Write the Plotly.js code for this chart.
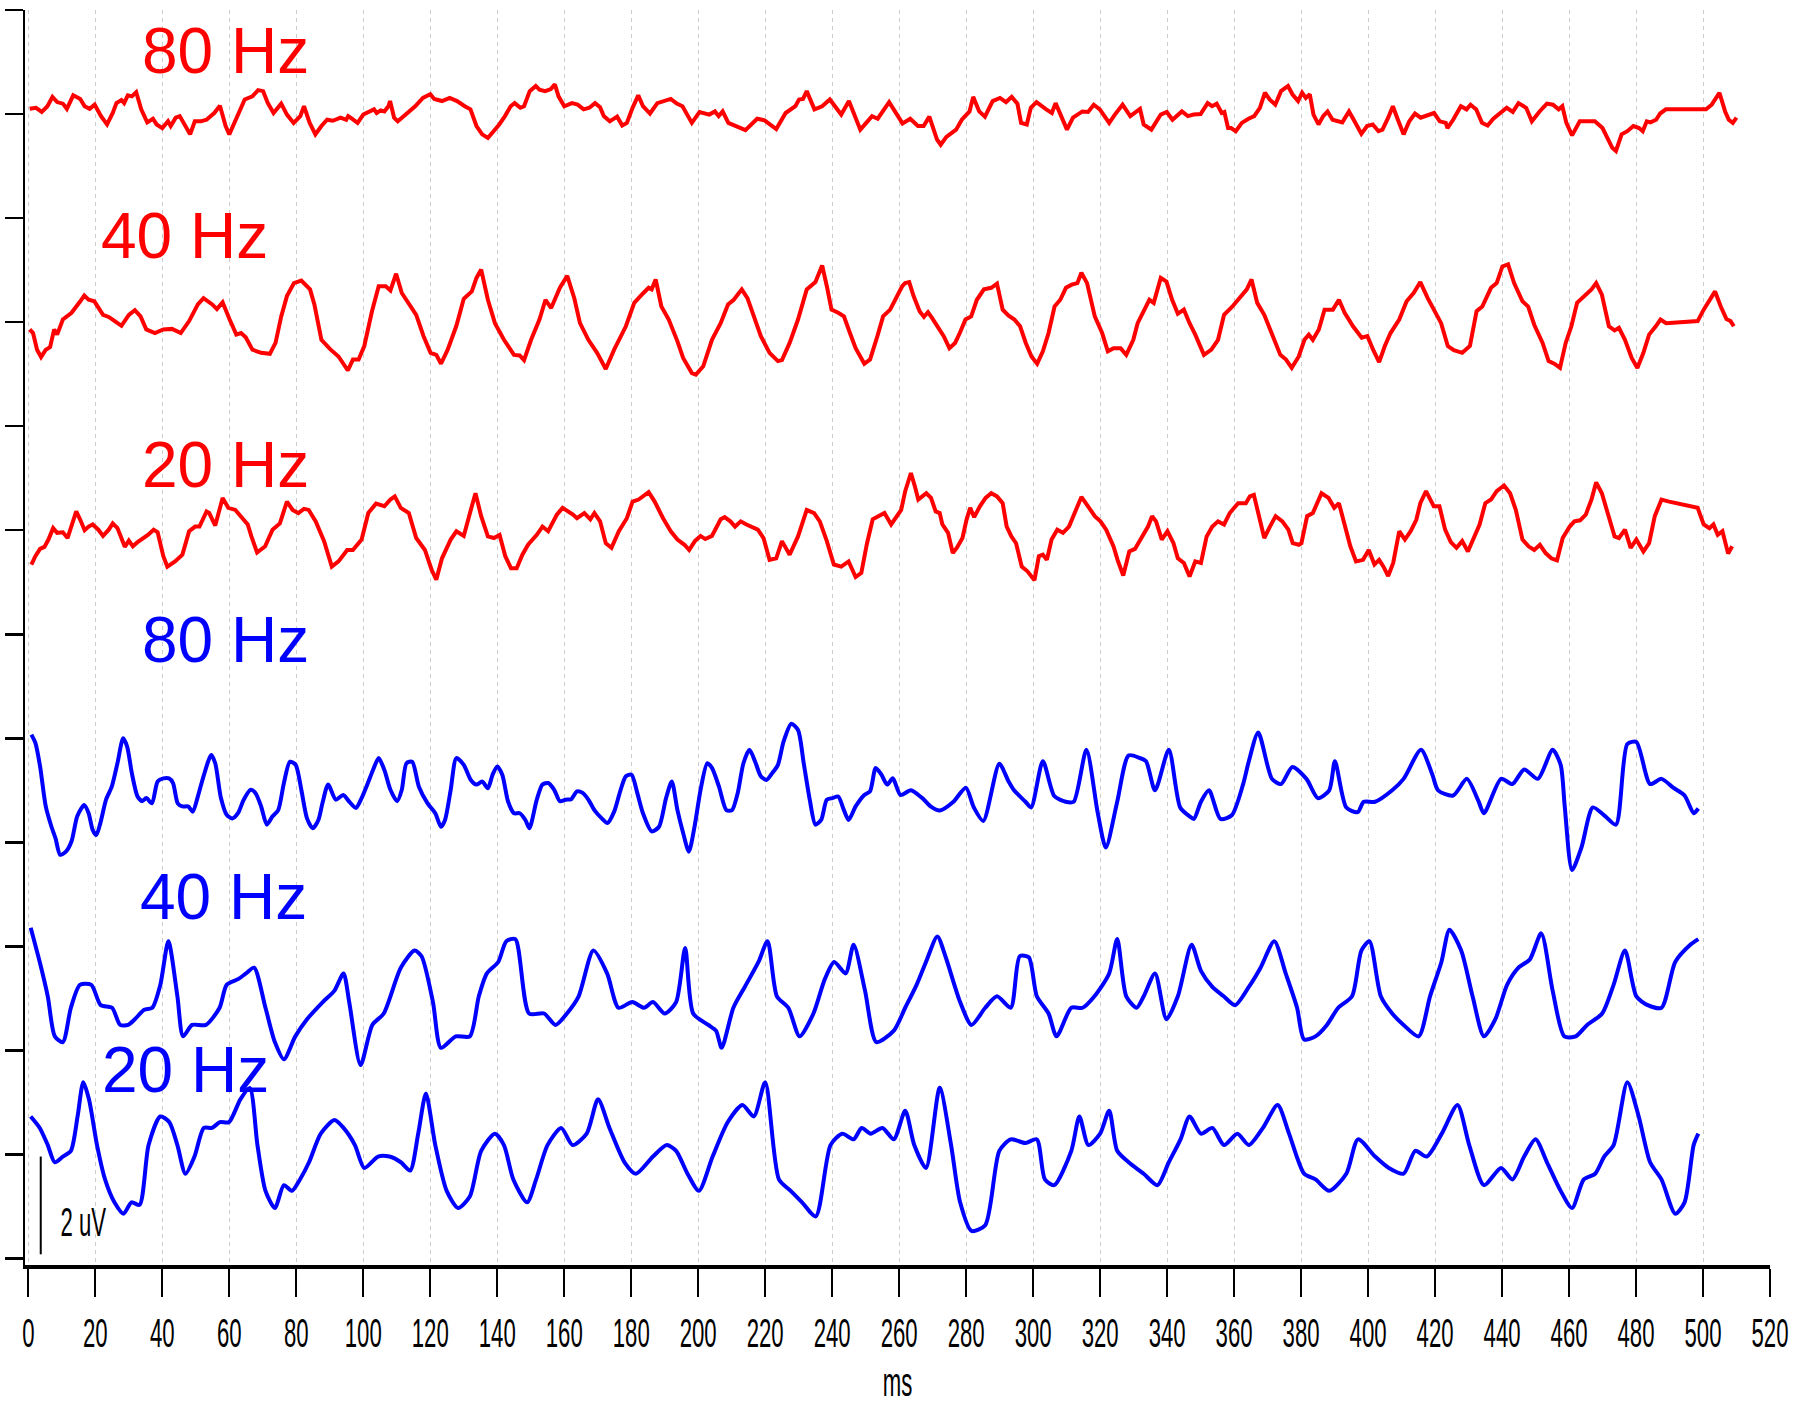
<!DOCTYPE html>
<html>
<head>
<meta charset="utf-8">
<script src="https://cdn.plot.ly/plotly-3.0.1.min.js"></script>
<style>
  html, body { margin: 0; padding: 0; background: #ffffff; }
  #chart { width: 1796px; height: 1404px; }
</style>
</head>
<body>
<div id="chart"></div>
<script>
// ---------------- DATA (time in ms, amplitude in uV relative to each trace's baseline) ----------------
const traceLabels = ['80 Hz', '40 Hz', '20 Hz', '80 Hz', '40 Hz', '20 Hz'];
const traceBaselines = [22, 18, 14, 10, 6, 2];   // uV offset used to stack the traces
const traceColors = ['#ff0000', '#ff0000', '#ff0000', '#0000ff', '#0000ff', '#0000ff'];
const xTicks = [0,20,40,60,80,100,120,140,160,180,200,220,240,260,280,300,320,340,360,380,400,420,440,460,480,500,520];
const yTicks = [0,2,4,6,8,10,12,14,16,18,20,22,24];
const scaleBar = { ms: 3.7, from: 0.08, to: 1.96, label: '2 uV' };
const xTitle = 'ms';

const red80 = [[0.4,0.10],[2.3,0.12],[4.0,0.04],[5.7,0.15],[7.2,0.33],[8.6,0.23],[10.3,0.20],[11.5,0.10],[13.4,0.36],[15.5,0.29],[16.8,0.15],[18.3,0.10],[19.8,0.18],[21.7,-0.04],[23.5,-0.20],[25.2,0.02],[26.3,0.21],[27.8,0.27],[28.6,0.21],[29.7,0.36],[30.9,0.34],[32.2,0.42],[33.7,0.09],[35.5,-0.16],[37.2,-0.09],[38.3,-0.20],[40.0,-0.27],[41.7,-0.14],[42.5,-0.23],[44.0,-0.07],[45.2,-0.04],[46.9,-0.23],[48.3,-0.39],[49.7,-0.14],[51.5,-0.14],[53.2,-0.11],[55.5,0.02],[57.2,0.16],[58.9,-0.23],[60.0,-0.39],[62.3,-0.04],[64.6,0.28],[66.9,0.34],[68.6,0.46],[70.1,0.44],[71.5,0.21],[73.2,0.02],[75.5,0.20],[77.2,-0.01],[79.2,-0.17],[81.2,-0.04],[82.3,0.15],[84.0,-0.17],[85.7,-0.39],[87.5,-0.23],[89.2,-0.11],[90.9,-0.13],[93.2,-0.07],[94.9,-0.11],[95.5,-0.04],[96.6,-0.09],[98.3,-0.17],[100.0,-0.01],[101.8,0.04],[103.2,0.09],[104.0,0.02],[105.2,0.07],[106.3,0.05],[107.5,0.15],[108.0,0.25],[109.2,-0.07],[110.3,-0.14],[112.6,-0.01],[115.5,0.15],[117.8,0.31],[120.0,0.38],[121.2,0.29],[123.5,0.25],[125.8,0.31],[128.0,0.25],[130.3,0.15],[132.0,0.09],[133.8,-0.23],[135.5,-0.39],[137.2,-0.46],[138.9,-0.33],[140.6,-0.20],[142.3,-0.04],[144.0,0.15],[145.2,0.21],[146.9,0.12],[148.0,0.15],[149.7,0.44],[151.5,0.54],[152.6,0.47],[154.3,0.44],[156.0,0.48],[157.2,0.57],[158.3,0.34],[160.0,0.15],[162.3,0.21],[164.0,0.18],[165.8,0.09],[167.5,0.12],[169.2,0.21],[170.7,0.13],
[171.8,-0.04],[173.6,-0.14],[175.8,-0.05],[177.3,-0.22],[178.7,-0.17],[180.4,0.12],[182.1,0.36],[183.5,0.15],[185.6,0.01],[187.8,0.21],[190.7,0.27],[191.8,0.29],[193.6,0.20],[195.3,0.15],[198.1,-0.17],[200.4,0.04],[203.3,-0.01],[205.0,0.05],[206.1,-0.04],[207.3,0.05],[209.0,-0.17],[211.8,-0.25],[214.1,-0.31],[217.6,-0.09],[219.8,-0.12],[223.3,-0.29],[226.1,0.02],[229.0,0.15],[230.1,0.28],[231.3,0.29],[232.4,0.44],[234.7,0.09],[237.0,0.15],[239.3,0.28],[242.7,-0.01],[245.0,0.25],[248.4,-0.30],[251.9,-0.04],[253.6,-0.09],[257.0,0.23],[261.0,-0.18],[263.3,-0.09],[265.6,-0.23],[267.3,-0.23],[269.0,-0.05],[271.3,-0.49],[272.4,-0.59],[274.1,-0.44],[277.0,-0.30],[278.7,-0.11],[281.0,0.05],[282.1,0.33],[283.9,0.05],[285.6,-0.05],[287.9,0.25],[290.1,0.31],[291.9,0.23],[293.6,0.33],[295.3,0.20],[296.4,-0.17],[298.1,-0.20],[299.3,0.12],[301.0,0.23],[303.9,0.09],[305.6,0.02],[306.7,0.21],[310.1,-0.30],[311.9,-0.07],[314.7,0.05],[316.4,0.04],[318.1,0.18],[319.9,0.09],[322.7,-0.17],[324.4,-0.01],[326.7,0.18],[329.0,-0.04],[330.1,0.02],[331.9,0.10],[333.0,-0.20],[335.3,-0.30],[338.1,-0.01],[339.9,0.04],[341.6,-0.11],[344.4,0.05],[346.2,-0.04],[347.9,-0.01],
[350.0,0.00],[352.1,0.21],[353.4,0.15],[354.8,0.20],[356.3,0.02],[357.1,0.04],[358.2,-0.27],[359.1,-0.27],[360.5,-0.33],[362.3,-0.17],[364.3,-0.09],[366.0,-0.04],[367.7,0.12],[369.2,0.41],[370.6,0.28],[372.3,0.18],[374.0,0.44],[376.1,0.54],[377.4,0.38],[379.1,0.25],[380.3,0.41],[381.4,0.31],[382.6,0.38],[383.7,-0.01],[385.2,-0.20],[386.6,-0.04],[387.9,0.05],[389.4,-0.11],[392.3,-0.16],[394.3,0.05],[395.7,-0.11],[398.0,-0.38],[399.7,-0.23],[401.4,-0.20],[403.1,-0.33],[404.3,-0.30],[406.0,-0.07],[407.4,0.15],[408.9,-0.11],[410.6,-0.39],[412.3,-0.14],[414.0,0.01],[415.7,-0.07],[418.6,-0.01],[419.7,0.02],[421.4,-0.14],[423.2,-0.17],[423.7,-0.27],[425.4,-0.11],[427.7,0.15],[429.4,0.09],[430.6,0.18],[432.3,0.09],[434.0,-0.17],[435.7,-0.22],[437.4,-0.09],[440.3,0.05],[441.4,0.12],[443.2,0.04],[444.9,0.21],[447.2,0.12],[448.9,-0.14],[451.2,0.05],[453.4,0.20],[455.2,0.18],[456.9,0.09],[458.0,0.15],[459.2,-0.17],[460.9,-0.41],[463.2,-0.14],[467.7,-0.14],[470.0,-0.27],[472.9,-0.65],[474.0,-0.71],[475.7,-0.39],[477.4,-0.33],[479.2,-0.23],[480.9,-0.27],[482.0,-0.33],[483.2,-0.14],[484.3,-0.16],[486.0,-0.11],[487.2,0.01],[488.9,0.09],[500.9,0.09],[502.6,0.18],[504.9,0.41],[506.6,0.05],[507.7,-0.11],[508.9,-0.17],[510.0,-0.07]];

const red40 = [[0.4,-0.14],[1.4,-0.21],[2.6,-0.53],[3.8,-0.67],[5.2,-0.53],[6.5,-0.48],[7.7,-0.14],[8.6,-0.24],[10.3,0.05],[12.9,0.18],[15.5,0.40],[16.7,0.51],[18.0,0.43],[19.7,0.40],[22.3,0.14],[24.0,0.10],[25.8,0.02],[27.8,-0.07],[30.0,0.14],[31.8,0.23],[33.5,0.11],[35.2,-0.14],[37.8,-0.21],[40.3,-0.14],[42.9,-0.13],[45.5,-0.21],[48.0,0.02],[50.6,0.34],[52.3,0.46],[54.9,0.34],[56.3,0.25],[58.0,0.38],[60.1,0.05],[62.1,-0.24],[63.5,-0.21],[64.9,-0.29],[66.9,-0.53],[69.5,-0.59],[72.1,-0.61],[73.8,-0.40],[75.5,0.11],[77.2,0.50],[79.3,0.75],[81.5,0.80],[84.1,0.63],[85.4,0.34],[87.5,-0.34],[90.1,-0.52],[92.6,-0.66],[94.0,-0.79],[95.4,-0.93],[96.9,-0.72],[98.6,-0.72],[100.3,-0.46],[102.6,0.21],[104.6,0.69],[106.7,0.69],[108.1,0.61],[109.8,0.93],[111.5,0.56],[114.1,0.30],[115.8,0.14],[118.0,-0.27],[120.1,-0.59],[121.8,-0.63],[123.2,-0.80],[125.2,-0.53],[127.8,-0.07],[130.0,0.45],[132.4,0.59],[133.8,0.85],[135.2,1.01],[137.2,0.43],[139.3,-0.02],[142.0,-0.34],[145.0,-0.63],[146.7,-0.64],[148.0,-0.73],[150.1,-0.34],[152.6,0.05],[154.4,0.43],[156.1,0.27],[158.7,0.66],[160.9,0.89],[163.0,0.46],[164.7,-0.02],[167.2,-0.34],[169.8,-0.59],[172.4,-0.90],[174.9,-0.53],[178.4,-0.08],[180.9,0.37],[183.5,0.55],[185.2,0.66],[186.1,0.63],[187.3,0.82],[189.0,0.30],[191.2,0.05],[193.8,-0.37],[195.5,-0.69],[198.1,-0.98],[199.3,-1.01],[201.5,-0.85],[204.1,-0.34],[206.7,-0.02],[208.9,0.34],[210.6,0.43],[213.0,0.63],[214.7,0.46],[217.0,0.02],[218.7,-0.27],[221.3,-0.59],[223.8,-0.75],[225.0,-0.73],[227.3,-0.40],[229.8,0.05],[232.4,0.63],[235.0,0.77],[237.0,1.09],[238.4,0.69],[239.8,0.24],[241.8,0.18],[243.5,0.11],[245.3,-0.21],[247.0,-0.50],[249.6,-0.80],[251.3,-0.72],[253.5,-0.27],[255.2,0.11],[257.3,0.24],[259.0,0.46],
[260.9,0.69],[261.8,0.75],[263.0,0.77],[264.3,0.50],[266.1,0.21],[267.4,0.10],[268.6,0.19],[269.8,0.08],[271.5,-0.08],[273.3,-0.27],[275.0,-0.50],[276.7,-0.40],[278.1,-0.21],[279.8,0.05],[281.5,0.11],[283.2,0.43],[285.3,0.63],[287.5,0.66],[289.2,0.74],[290.9,0.24],[292.6,0.13],[294.4,0.05],[296.1,-0.08],[297.8,-0.40],[299.5,-0.66],[301.2,-0.80],[302.9,-0.56],[304.6,-0.21],[306.4,0.30],[308.1,0.43],[309.8,0.66],[311.5,0.72],[313.2,0.75],[314.4,0.95],[316.1,0.75],[318.4,0.11],[320.6,-0.21],[322.3,-0.56],[324.0,-0.50],[326.1,-0.50],[327.8,-0.63],[329.9,-0.34],[331.2,-0.02],[332.9,0.18],[334.7,0.43],[336.0,0.37],[338.1,0.85],[339.8,0.78],[341.5,0.43],[343.2,0.16],[345.0,0.24],[346.7,-0.02],[348.4,-0.24],[351.0,-0.63],[353.2,-0.53],[355.2,-0.34],[357.0,0.14],[359.5,0.30],[362.1,0.50],[363.8,0.63],[365.2,0.82],[366.9,0.37],[369.0,0.14],[371.5,-0.24],[373.8,-0.63],[375.5,-0.72],[377.2,-0.88],[379.3,-0.66],[381.0,-0.34],[382.3,-0.24],[383.5,-0.34],[385.3,-0.14],[387.0,0.24],[389.5,0.24],[391.3,0.43],[393.0,0.18],[395.5,-0.08],[398.1,-0.30],[399.8,-0.27],[401.5,-0.53],[403.3,-0.77],[405.0,-0.46],[406.7,-0.21],[409.3,0.05],[411.5,0.40],[413.6,0.56],[415.6,0.77],[417.8,0.46],[419.6,0.24],[421.8,-0.02],[423.8,-0.46],[425.6,-0.54],[428.1,-0.59],[430.4,-0.46],[432.4,0.21],[434.1,0.30],[436.7,0.66],[438.4,0.75],[440.1,1.07],[441.8,1.11],[443.6,0.75],[446.1,0.40],[447.8,0.30],[449.6,-0.05],[452.1,-0.40],[453.9,-0.75],[455.6,-0.80],[457.3,-0.88],[459.0,-0.40],[460.7,-0.08],[462.4,0.37],[464.7,0.50],[466.7,0.63],[468.1,0.75],[469.8,0.53],[471.9,-0.08],[473.6,-0.16],[474.9,-0.11],[476.7,-0.34],[478.7,-0.69],[480.4,-0.88],[482.2,-0.59],[483.9,-0.24],[485.9,-0.08],[487.3,0.05],[489.0,-0.02],[498.4,0.02],[500.2,0.24],[501.9,0.43],[503.6,0.59],[505.3,0.30],[507.0,0.06],[508.2,0.02],[509.2,-0.08]];

const red20 = [[0.9,-0.66],[2.1,-0.50],[3.5,-0.36],[4.8,-0.32],[6.0,-0.18],[7.4,0.04],[8.6,-0.05],[10.3,-0.04],[11.7,-0.15],[12.9,0.07],[14.3,0.36],[15.5,0.20],[16.8,0.00],[18.0,0.07],[19.2,0.11],[20.9,0.01],[22.3,-0.11],[24.0,0.01],[25.2,0.13],[26.6,0.04],[27.8,-0.18],[28.8,-0.32],[30.0,-0.20],[31.2,-0.31],[32.6,-0.23],[34.0,-0.17],[35.7,-0.09],[37.4,0.01],[38.6,-0.04],[40.3,-0.50],[41.5,-0.70],[43.8,-0.60],[46.0,-0.47],[48.0,-0.02],[49.8,0.07],[51.1,0.07],[53.2,0.36],[54.0,0.33],[55.8,0.09],[58.0,0.62],[59.7,0.43],[61.8,0.39],[63.5,0.27],[65.5,0.11],[66.6,-0.12],[68.3,-0.43],[70.7,-0.31],[72.9,0.01],[75.1,0.13],[77.2,0.55],[78.9,0.39],[80.6,0.33],[82.3,0.41],[83.7,0.39],[85.8,0.17],[88.3,-0.21],[90.6,-0.70],[92.6,-0.60],[95.2,-0.38],[96.9,-0.38],[99.5,-0.18],[101.5,0.33],[103.8,0.51],[106.3,0.46],[108.1,0.59],[109.4,0.65],[111.2,0.43],[113.6,0.33],[115.8,-0.15],[118.4,-0.38],[120.4,-0.76],[121.8,-0.95],[123.5,-0.54],[126.1,-0.18],[127.8,-0.02],[130.0,-0.11],[132.1,0.39],[133.5,0.71],[135.2,0.27],[137.2,-0.12],[139.0,-0.15],[140.7,-0.09],[142.4,-0.50],[144.1,-0.73],[145.8,-0.73],[147.5,-0.47],[149.2,-0.28],[151.8,-0.09],[153.5,0.07],[155.2,-0.02],[157.8,0.30],[159.5,0.43],[162.6,0.30],[163.8,0.23],[166.0,0.33],[167.8,0.21],[169.0,0.33],[170.7,0.17],[172.4,-0.25],[174.1,-0.34],[176.3,-0.02],[178.7,0.23],[180.4,0.55],[182.2,0.59],[185.2,0.73],[187.0,0.55],[189.5,0.23],[191.8,-0.02],[193.8,-0.18],[195.9,-0.28],[197.3,-0.38],[199.0,-0.21],[200.7,-0.11],[202.1,-0.17],[204.1,-0.11],[206.7,0.21],[207.9,0.25],[209.6,0.17],[211.0,0.07],[212.7,0.17],[214.4,0.11],[217.8,0.01],[219.5,-0.15],[221.3,-0.57],[223.3,-0.54],[225.0,-0.21],[227.3,-0.47],[229.8,-0.12],[232.4,0.39],[234.6,0.33],[236.3,0.17],[238.4,-0.21],[240.5,-0.66],[242.7,-0.70],[244.9,-0.60],[247.0,-0.90],[248.7,-0.82],[250.4,-0.25],[252.1,0.21],[254.2,0.27],[255.6,0.33],[257.6,0.11],[259.0,0.23],
[260.6,0.39],[261.8,0.75],[263.5,1.10],[264.7,0.84],[265.7,0.59],[266.9,0.65],[268.1,0.71],[269.5,0.62],[270.9,0.36],[272.1,0.33],[272.9,0.11],[274.6,-0.05],[276.0,-0.44],[277.2,-0.34],[278.9,-0.15],[280.1,0.20],[281.2,0.43],[282.4,0.25],[284.1,0.46],[285.8,0.62],[287.5,0.71],[289.2,0.65],[290.9,0.52],[292.1,0.07],[293.5,-0.12],[294.9,-0.25],[296.6,-0.70],[298.3,-0.79],[300.4,-0.96],[301.7,-0.50],[302.9,-0.47],[304.1,-0.57],[305.5,-0.18],[307.2,0.01],[308.9,-0.05],[310.7,0.07],[312.4,0.33],[314.4,0.64],[316.7,0.43],[318.4,0.27],[320.1,0.17],[321.8,0.01],[324.0,-0.31],[325.2,-0.57],[326.9,-0.87],[328.7,-0.41],[330.4,-0.36],[332.1,-0.18],[334.3,0.07],[335.5,0.27],[336.7,0.17],[338.4,-0.18],[340.1,-0.02],[341.9,-0.25],[343.2,-0.54],[345.0,-0.63],[346.7,-0.89],[348.4,-0.60],[350.1,-0.63],[351.8,-0.12],[353.5,0.07],[355.2,0.17],[357.0,0.11],[358.7,0.33],[361.2,0.52],[363.5,0.52],[364.7,0.65],[365.9,0.68],[367.6,0.23],[369.0,-0.15],[370.7,0.07],[372.4,0.27],[374.4,0.17],[376.2,0.01],[377.5,-0.25],[379.3,-0.28],[380.1,-0.25],[381.8,0.27],[383.5,0.33],[386.1,0.71],[388.2,0.62],[389.9,0.43],[391.3,0.52],[393.0,0.07],[394.7,-0.31],[396.4,-0.60],[398.5,-0.57],[400.2,-0.38],[401.9,-0.66],[403.3,-0.57],[404.6,-0.70],[406.0,-0.88],[407.5,-0.63],[409.3,-0.02],[411.0,-0.18],[412.7,-0.02],[414.4,0.20],[415.6,0.52],[417.3,0.75],[419.6,0.46],[421.3,0.46],[423.0,0.01],[424.7,-0.23],[426.4,-0.34],[428.1,-0.21],[429.8,-0.41],[431.6,-0.15],[433.3,0.11],[435.0,0.52],[436.7,0.59],[438.4,0.75],[440.6,0.86],[442.4,0.71],[444.1,0.39],[446.1,-0.18],[447.9,-0.31],[449.6,-0.38],[451.3,-0.28],[453.0,-0.44],[454.7,-0.54],[456.4,-0.58],[458.1,-0.15],[460.2,0.07],[461.6,0.17],[463.3,0.19],[465.0,0.30],[466.7,0.59],[468.1,0.92],[469.8,0.71],[471.9,0.27],[473.6,-0.12],[474.9,-0.15],[476.7,0.01],[478.4,-0.34],[480.1,-0.18],[482.2,-0.41],[483.9,-0.25],[485.6,0.27],[487.6,0.59],[489.9,0.55],[498.4,0.43],[500.2,0.11],[501.9,0.04],[503.1,0.11],[504.4,-0.09],[505.8,-0.02],[507.5,-0.45],[508.7,-0.31]];

const blue80 = [[0.9,0.07],[2.1,-0.09],[3.5,-0.54],[5.2,-1.31],[6.9,-1.70],[8.1,-1.92],[9.5,-2.24],[11.2,-2.18],[12.9,-1.98],[14.6,-1.50],[16.7,-1.28],[18.0,-1.44],[19.2,-1.76],[20.3,-1.86],[21.5,-1.63],[23.2,-1.18],[24.9,-0.93],[26.6,-0.48],[28.3,0.00],[29.5,-0.16],[30.9,-0.67],[32.6,-1.12],[34.0,-1.21],[35.2,-1.15],[36.9,-1.25],[38.6,-0.83],[40.3,-0.77],[42.0,-0.77],[43.2,-0.86],[44.6,-1.25],[46.0,-1.31],[47.7,-1.31],[49.1,-1.41],[50.6,-1.12],[52.3,-0.73],[54.6,-0.32],[55.8,-0.48],[57.5,-1.15],[59.2,-1.47],[60.9,-1.54],[62.6,-1.44],[64.3,-1.18],[66.4,-0.99],[67.8,-1.05],[69.5,-1.31],[71.2,-1.66],[72.9,-1.50],[74.6,-1.38],[76.3,-0.86],[78.1,-0.45],[79.8,-0.51],[81.5,-0.99],[83.2,-1.54],[84.9,-1.73],[86.6,-1.57],[87.8,-1.25],[89.5,-0.89],[91.8,-1.18],[94.0,-1.09],[95.7,-1.21],[97.8,-1.34],[99.5,-1.15],[101.2,-0.89],[102.9,-0.61],[104.6,-0.38],[106.3,-0.61],[108.1,-0.99],[110.1,-1.21],[111.5,-0.99],[112.9,-0.48],[114.6,-0.45],[116.6,-0.93],[119.2,-1.25],[121.5,-1.44],[123.2,-1.70],[124.4,-1.57],[126.1,-0.99],[127.8,-0.38],[130.0,-0.51],[132.1,-0.80],[133.8,-0.89],[135.5,-0.83],[137.2,-0.96],[138.6,-0.70],[140.0,-0.54],[141.5,-0.70],[143.2,-1.21],[145.0,-1.44],[146.7,-1.44],[148.4,-1.57],[149.6,-1.73],[151.8,-1.18],[153.5,-0.89],[155.2,-0.86],[157.0,-0.99],[158.7,-1.21],[160.4,-1.18],[162.1,-1.17],[163.8,-1.02],[165.5,-1.05],[167.2,-1.18],[169.0,-1.38],[171.2,-1.54],[172.9,-1.63],[174.9,-1.41],[176.7,-1.02],[178.4,-0.73],[180.1,-0.70],[181.8,-1.05],[183.5,-1.44],[186.1,-1.79],[188.3,-1.70],[190.4,-1.15],[192.1,-0.83],[193.8,-1.38],[195.5,-1.82],[197.2,-2.18],[198.9,-1.70],[200.7,-0.99],[202.7,-0.48],[204.1,-0.57],[206.2,-0.93],[208.4,-1.38],[210.1,-1.38],[211.8,-1.05],[213.5,-0.48],[215.3,-0.22],[217.0,-0.45],[218.7,-0.73],[220.4,-0.80],[222.1,-0.67],[223.8,-0.51],[225.5,-0.06],[227.8,0.28],[229.8,0.16],[231.5,-0.48],[233.3,-1.18],[235.0,-1.66],[236.7,-1.57],[238.4,-1.18],[240.1,-1.15],[241.8,-1.12],[243.5,-1.38],[244.9,-1.57],[247.0,-1.31],[249.6,-1.09],[251.3,-1.02],[253.0,-0.57],[254.7,-0.70],[256.4,-0.89],[258.1,-0.77],[260.4,-1.09],
[263.5,-1.00],[266.9,-1.15],[269.6,-1.32],[272.1,-1.39],[276.2,-1.22],[279.9,-0.95],[282.3,-1.33],[285.1,-1.59],[289.9,-0.49],[292.6,-0.82],[294.3,-1.00],[297.7,-1.22],[299.4,-1.33],[302.9,-0.44],[306.3,-1.11],[309.7,-1.22],[312.1,-1.22],[315.9,-0.22],[319.3,-1.44],[321.7,-2.10],[325.1,-1.22],[328.5,-0.33],[331.9,-0.38],[333.7,-0.44],[336.4,-1.00],[340.5,-0.22],[343.9,-1.33],[346.7,-1.50],[348.0,-1.55],[350.1,-1.22],[352.5,-1.00],[355.9,-1.55],[359.3,-1.48],[362.7,-0.88],[364.4,-0.44],[367.2,0.11],[371.3,-0.78],[374.0,-0.88],[377.4,-0.55],[381.6,-0.78],[385.0,-1.15],[388.4,-1.00],[390.1,-0.44],[393.5,-1.33],[396.9,-1.42],[398.7,-1.22],[402.1,-1.22],[407.2,-1.00],[410.6,-0.78],[415.8,-0.22],[419.2,-0.70],[420.9,-1.00],[425.4,-1.10],[429.5,-0.78],[432.9,-1.20],[434.6,-1.44],[439.7,-0.78],[443.1,-0.88],[446.6,-0.60],[450.7,-0.78],[455.1,-0.22],[457.5,-0.51],[458.7,-1.30],[460.9,-2.53],[463.7,-2.10],[467.1,-1.33],[470.5,-1.48],[474.0,-1.66],[477.4,-0.11],[480.1,-0.07],[484.2,-0.88],[487.6,-0.78],[491.1,-0.95],[494.5,-1.10],[497.2,-1.44],[498.6,-1.35]];

const blue40 = [[0.7,0.36],[3.4,-0.30],[5.8,-0.96],[7.9,-1.73],[10.3,-1.84],[12.7,-1.18],[15.4,-0.74],[18.8,-0.74],[21.6,-1.13],[25.0,-1.18],[27.4,-1.51],[29.8,-1.51],[31.8,-1.40],[34.6,-1.22],[37.0,-1.18],[39.4,-0.74],[41.8,0.10],[44.5,-0.96],[46.2,-1.73],[48.9,-1.51],[53.0,-1.51],[57.1,-1.18],[59.2,-0.74],[62.6,-0.63],[65.0,-0.52],[67.4,-0.41],[70.8,-1.18],[73.6,-1.84],[76.3,-2.17],[79.7,-1.73],[83.2,-1.40],[87.9,-1.07],[91.4,-0.85],[94.1,-0.52],[95.8,-1.07],[99.2,-2.28],[102.7,-1.51],[106.1,-1.29],[111.2,-0.41],[115.3,-0.08],[117.4,-0.19],[120.8,-1.07],[123.2,-1.95],[127.6,-1.73],[131.8,-1.73],[134.5,-0.96],[136.9,-0.52],[140.3,-0.30],[142.7,0.10],[145.4,0.14],[149.5,-1.29],[154.0,-1.29],[157.4,-1.51],[160.8,-1.29],[164.3,-0.96],[168.7,-0.08],[172.8,-0.52],[176.2,-1.18],[180.3,-1.07],[183.8,-1.18],[186.5,-1.07],[190.0,-1.29],[193.4,-1.07],[196.1,-0.03],[198.5,-1.29],[203.0,-1.51],[205.3,-1.62],[207.0,-1.95],[210.5,-1.18],[213.9,-0.78],[218.0,-0.30],[220.7,0.10],[223.5,-0.96],[226.9,-1.18],[230.3,-1.73],[234.4,-1.29],[237.8,-0.63],[240.6,-0.30],[244.0,-0.52],[246.4,0.03],[249.8,-0.85],[253.2,-1.84],[258.4,-1.62],[261.8,-1.18],[265.2,-0.74],[268.0,-0.30],[271.4,0.19],[273.8,-0.19],[278.2,-1.07],[281.6,-1.51],[285.7,-1.18],[289.2,-0.96],[293.3,-1.18],[296.0,-0.19],[298.7,-0.21],[301.1,-0.96],[304.6,-1.29],[307.0,-1.73],[311.4,-1.18],[314.8,-1.18],[318.3,-0.96],[322.7,-0.52],[325.1,0.14],[327.8,-0.96],[330.9,-1.18],[333.0,-0.96],[336.4,-0.52],[339.8,-1.40],[343.2,-0.96],[347.3,0.03],[350.1,-0.47],[353.5,-0.78],[356.9,-0.96],[360.3,-1.13],[364.4,-0.78],[367.9,-0.41],[372.0,0.10],[375.4,-0.52],[378.8,-1.18],[380.9,-1.79],[384.3,-1.73],[387.7,-1.51],[391.1,-1.18],[395.2,-0.96],[398.0,-0.08],[400.4,0.10],[403.8,-0.96],[407.2,-1.29],[410.6,-1.51],[415.1,-1.73],[418.5,-0.96],[421.9,-0.30],[424.3,0.32],[427.8,-0.08],[431.2,-0.96],[434.6,-1.73],[438.0,-1.40],[441.5,-0.74],[444.9,-0.41],[448.3,-0.25],[451.7,0.25],[455.1,-0.85],[458.6,-1.73],[462.0,-1.73],[465.4,-1.51],[469.9,-1.29],[473.3,-0.74],[476.7,-0.08],[480.1,-0.96],[483.5,-1.13],[487.6,-1.18],[491.7,-0.30],[496.2,0.03],[498.6,0.14]];

const blue20 = [[0.7,0.73],[3.4,0.51],[5.8,0.18],[7.9,-0.15],[10.3,-0.04],[12.7,0.07],[14.7,0.73],[16.4,1.39],[18.1,1.06],[20.5,0.18],[22.9,-0.48],[25.7,-0.92],[28.4,-1.14],[30.8,-0.92],[33.2,-0.97],[35.9,0.18],[39.4,0.73],[42.1,0.62],[44.5,0.18],[46.9,-0.37],[49.6,-0.04],[52.4,0.51],[54.8,0.51],[57.2,0.62],[59.9,0.62],[63.3,1.06],[66.1,1.28],[68.4,0.18],[70.8,-0.70],[73.6,-1.03],[76.3,-0.59],[78.7,-0.70],[81.1,-0.48],[83.8,-0.15],[87.3,0.40],[91.4,0.66],[94.1,0.51],[97.5,0.18],[100.3,-0.26],[104.4,-0.04],[107.8,-0.04],[111.2,-0.15],[114.0,-0.31],[116.4,0.40],[118.7,1.17],[121.5,0.18],[124.9,-0.70],[128.3,-1.03],[131.8,-0.81],[135.2,0.07],[139.3,0.40],[142.0,0.18],[144.8,-0.48],[148.9,-0.92],[151.6,-0.48],[155.0,0.18],[159.1,0.51],[162.5,0.18],[166.7,0.40],[170.1,1.06],[173.5,0.51],[178.0,-0.15],[181.4,-0.37],[186.5,-0.04],[190.6,0.18],[193.4,0.07],[196.8,-0.37],[200.2,-0.70],[204.3,-0.04],[208.8,0.62],[213.2,0.95],[216.6,0.73],[220.0,1.39],[224.1,-0.48],[227.6,-0.70],[231.0,-0.92],[235.1,-1.19],[239.5,0.18],[243.0,0.40],[246.4,0.29],[248.8,0.51],[251.5,0.40],[255.0,0.51],[258.4,0.29],[261.8,0.84],[264.5,0.18],[268.0,-0.26],[272.1,1.28],[275.5,0.18],[278.2,-0.92],[281.6,-1.47],[285.7,-1.36],[289.9,0.07],[293.3,0.29],[297.7,0.22],[301.1,0.29],[303.5,-0.48],[306.3,-0.59],[311.4,0.07],[313.8,0.73],[316.5,0.18],[320.0,0.40],[322.7,0.84],[325.1,0.07],[328.5,-0.15],[333.0,-0.37],[337.1,-0.59],[340.5,-0.15],[344.0,0.29],[346.7,0.73],[350.1,0.40],[353.5,0.51],[357.0,0.18],[361.0,0.40],[364.4,0.18],[368.6,0.51],[373.0,0.95],[376.4,0.40],[380.9,-0.37],[384.3,-0.48],[388.4,-0.70],[393.5,-0.37],[397.0,0.29],[402.1,-0.04],[406.2,-0.26],[410.6,-0.37],[414.1,0.07],[417.5,-0.04],[422.0,0.40],[426.7,0.95],[430.2,0.18],[434.6,-0.59],[439.7,-0.26],[443.1,-0.48],[446.6,-0.04],[450.0,0.29],[453.4,-0.15],[457.5,-0.70],[460.9,-1.03],[464.4,-0.48],[467.8,-0.37],[470.5,-0.04],[473.3,0.18],[477.4,1.39],[480.8,0.73],[484.2,-0.15],[487.6,-0.48],[491.7,-1.14],[494.5,-0.92],[497.2,0.18],[498.6,0.40]];

const allTraces = [red80, red40, red20, blue80, blue40, blue20];

// ---------------- PLOT ----------------
const FONT_LABEL = 'Liberation Sans, Arial, sans-serif';
const FONT_AXIS = 'Liberation Sans Narrow, Liberation Sans, Arial, sans-serif';

const data = allTraces.map((tr, i) => ({
  type: 'scatter',
  mode: 'lines',
  x: tr.map(p => p[0]),
  y: tr.map(p => p[1] + traceBaselines[i]),
  // blue recordings are low-pass smooth in the reference; draw them as smooth curves
  line: i < 3 ? { color: traceColors[i], width: 4, shape: 'linear' }
              : { color: traceColors[i], width: 4, shape: 'spline', smoothing: 0.7 },
  hoverinfo: 'skip',
  showlegend: false
}));

const labelPos = [
  { x: 33.3, y: 23.22 },
  { x: 21.0, y: 19.65 },
  { x: 33.3, y: 15.25 },
  { x: 33.3, y: 11.88 },
  { x: 32.7, y: 6.94 },
  { x: 21.3, y: 3.62 }
];

const annotations = traceLabels.map((t, i) => ({
  text: t, xref: 'x', yref: 'y', x: labelPos[i].x, y: labelPos[i].y,
  xanchor: 'left', yanchor: 'middle', showarrow: false,
  font: { family: FONT_LABEL, size: 64, color: traceColors[i] }
}));
annotations.push({
  text: scaleBar.label, xref: 'x', yref: 'y', x: 16.6, y: 0.70,
  xanchor: 'center', yanchor: 'middle', showarrow: false,
  font: { family: FONT_AXIS, size: 40, color: '#000000' }
});

const layout = {
  width: 1796, height: 1404,
  paper_bgcolor: '#ffffff', plot_bgcolor: '#ffffff',
  margin: { l: 25, r: 26, t: 10, b: 139, pad: 0 },
  showlegend: false,
  xaxis: {
    range: [-1.0, 520], autorange: false,
    tickvals: xTicks, ticktext: xTicks.map(String), tickangle: 0,
    ticklabeloverflow: 'allow',
    ticks: 'outside', ticklen: 28, tickwidth: 2, tickcolor: '#000000',
    showline: true, linewidth: 3.5, linecolor: '#000000',
    showgrid: true, gridcolor: '#cccccc', gridwidth: 1, griddash: '4px,4px',
    zeroline: false,
    tickfont: { family: FONT_AXIS, size: 40, color: '#000000' },
    ticklabelstandoff: 3,
    title: { text: xTitle, font: { family: FONT_AXIS, size: 40, color: '#000000' }, standoff: 34 }
  },
  yaxis: {
    range: [-0.125, 24], autorange: false,
    tickvals: yTicks, showticklabels: false,
    ticks: 'outside', ticklen: 18, tickwidth: 2.5, tickcolor: '#000000',
    showline: true, linewidth: 2.5, linecolor: '#000000',
    showgrid: false, zeroline: false
  },
  shapes: [{
    type: 'line', xref: 'x', yref: 'y',
    x0: scaleBar.ms, x1: scaleBar.ms, y0: scaleBar.from, y1: scaleBar.to,
    line: { color: '#000000', width: 2 }
  }],
  annotations: annotations
};

function condense(nodes, sx) {
  nodes.forEach(el => {
    try {
      const bb = el.getBBox();
      const cx = bb.x + bb.width / 2;
      const base = el.getAttribute('transform') || '';
      el.setAttribute('transform', base + ' translate(' + cx + ',0) scale(' + sx + ',1) translate(' + (-cx) + ',0)');
    } catch (e) {}
  });
}

Plotly.newPlot('chart', data, layout, { staticPlot: true, displayModeBar: false }).then(gd => {
  // Axis text in the reference uses a very condensed face: compress horizontally to match.
  const ticks = Array.from(gd.querySelectorAll('.xtick text'));
  let s = 0.62;
  const ref = ticks.find(t => t.textContent === '100');
  if (ref) { const w = ref.getBBox().width; if (w > 0) s = 37 / w; }
  condense(ticks, s);
  condense(Array.from(gd.querySelectorAll('.xtitle')), s);
  const ann = Array.from(gd.querySelectorAll('.annotation-text')).filter(t => t.textContent === scaleBar.label);
  condense(ann, s);
});
</script>
</body>
</html>
